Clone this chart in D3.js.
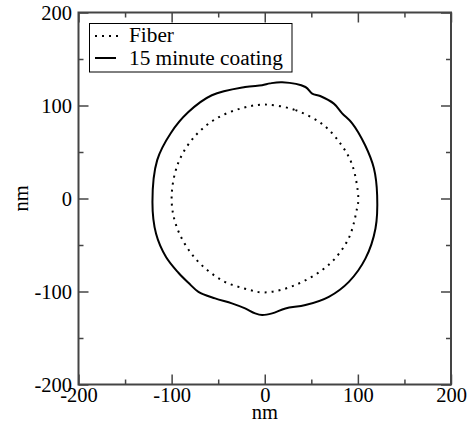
<!DOCTYPE html>
<html><head><meta charset="utf-8">
<script src="https://cdn.jsdelivr.net/npm/d3@7"></script>
<style>body{margin:0;background:#fff}svg{display:block}</style>
</head><body>
<svg id="c" width="471" height="426"></svg>
<script>
const seriesNames = ["Fiber", "15 minute coating"];
const majorTicks = [-200, -100, 0, 100, 200];
const minorTicks = [-150, -50, 50, 150];
const fiberX = [0, 33, 63, 82, 94, 100.5, 99, 90, 69, 33, 0, -21, -46, -75, -94, -100, -93, -75, -52, -25];
const fiberY = [101, 95, 79, 58, 36, 0, -11, -43, -71, -93, -101, -97, -88, -64, -32, 0, 38, 67, 86, 97];
const coatX = [-2.8, 5.8, 18.7, 43.7, 50.9, 59.5, 74.2, 83.1, 93.9, 107.8, 117.2, 120.7, 118.9, 108.2, 90.3, 68.8, 43.7, 22.2, 7.9, -2.8, -10.3, -21.1, -35.3, -53.3, -71.2, -82.0, -92.7, -106.0, -116.7, -120.6, -115.5, -100.8, -82.3, -56.8, -21.1];
const coatY = [121.8, 123.8, 125.0, 119.9, 112.8, 110.2, 102.0, 91.6, 80.9, 57.3, 32.5, 3.5, -32.2, -64.4, -89.6, -105.7, -114.6, -118.2, -123.5, -125.3, -123.5, -118.2, -112.8, -107.4, -100.3, -90.6, -79.8, -62.9, -37.9, -3.7, 41.3, 70.5, 92.7, 111.0, 119.9];

const svg = d3.select("#c");
const L = 78.5, R = 451, T = 12.5, B = 384.5;
const x = d3.scaleLinear().domain([-200, 200]).range([L, R]);
const y = d3.scaleLinear().domain([-200, 200]).range([B, T]);
const font = "Liberation Serif";
const axisColor = "#444";

const line = d3.line().x(d => x(d[0])).y(d => y(d[1])).curve(d3.curveCatmullRomClosed.alpha(0.5));
const fiber = fiberX.map((v, i) => [v, fiberY[i]]);
const coat = coatX.map((v, i) => [v, coatY[i]]);

svg.append("path").attr("d", line(fiber)).attr("fill", "none").attr("stroke", "#000")
  .attr("stroke-width", 2).attr("stroke-dasharray", "2,5");
svg.append("path").attr("d", line(coat)).attr("fill", "none").attr("stroke", "#000")
  .attr("stroke-width", 2);

function styleAxis(g) {
  g.selectAll("path").remove();
  g.selectAll("line").attr("stroke", axisColor).attr("stroke-width", 1.5);
  g.selectAll("text").attr("font-family", font).attr("font-size", 20.5).attr("fill", "#000");
}
const fmt = d => String(d);
svg.append("g").attr("transform", `translate(0,${B})`)
  .call(d3.axisBottom(x).tickValues(majorTicks).tickFormat(fmt).tickSizeInner(-10).tickSizeOuter(0).tickPadding(3)).call(styleAxis);
svg.append("g").attr("transform", `translate(${L},0)`)
  .call(d3.axisLeft(y).tickValues(majorTicks).tickFormat(fmt).tickSizeInner(-10).tickSizeOuter(0).tickPadding(6.5)).call(styleAxis);
svg.append("g").attr("transform", `translate(0,${T})`)
  .call(d3.axisTop(x).tickValues(majorTicks).tickFormat("").tickSizeInner(-10).tickSizeOuter(0)).call(styleAxis);
svg.append("g").attr("transform", `translate(${R},0)`)
  .call(d3.axisRight(y).tickValues(majorTicks).tickFormat("").tickSizeInner(-10).tickSizeOuter(0)).call(styleAxis);
svg.append("g").attr("transform", `translate(0,${B})`)
  .call(d3.axisBottom(x).tickValues(minorTicks).tickFormat("").tickSizeInner(-5).tickSizeOuter(0)).call(styleAxis);
svg.append("g").attr("transform", `translate(${L},0)`)
  .call(d3.axisLeft(y).tickValues(minorTicks).tickFormat("").tickSizeInner(-5).tickSizeOuter(0)).call(styleAxis);
svg.append("g").attr("transform", `translate(0,${T})`)
  .call(d3.axisTop(x).tickValues(minorTicks).tickFormat("").tickSizeInner(-5).tickSizeOuter(0)).call(styleAxis);
svg.append("g").attr("transform", `translate(${R},0)`)
  .call(d3.axisRight(y).tickValues(minorTicks).tickFormat("").tickSizeInner(-5).tickSizeOuter(0)).call(styleAxis);

svg.append("rect").attr("x", L).attr("y", T).attr("width", R - L).attr("height", B - T)
  .attr("fill", "none").attr("stroke", axisColor).attr("stroke-width", 2);

svg.append("text").attr("x", (L + R) / 2).attr("y", 419).attr("text-anchor", "middle")
  .attr("font-family", font).attr("font-size", 20.5).text("nm");
svg.append("text").attr("transform", `translate(28,${(T + B) / 2}) rotate(-90)`).attr("text-anchor", "middle")
  .attr("font-family", font).attr("font-size", 20.5).text("nm");

const lg = svg.append("g");
lg.append("rect").attr("x", 89.5).attr("y", 23.5).attr("width", 202.5).attr("height", 48.5)
  .attr("fill", "#fff").attr("stroke", "#000").attr("stroke-width", 1);
lg.append("line").attr("x1", 95).attr("x2", 118).attr("y1", 36).attr("y2", 36)
  .attr("stroke", "#000").attr("stroke-width", 2).attr("stroke-dasharray", "2,5");
lg.append("line").attr("x1", 95).attr("x2", 116).attr("y1", 58).attr("y2", 58)
  .attr("stroke", "#000").attr("stroke-width", 2);
lg.append("text").attr("x", 129).attr("y", 41.5).attr("font-family", font).attr("font-size", 21.3).text(seriesNames[0]);
lg.append("text").attr("x", 129).attr("y", 64.5).attr("font-family", font).attr("font-size", 21.3).text(seriesNames[1]);
</script>
</body></html>
